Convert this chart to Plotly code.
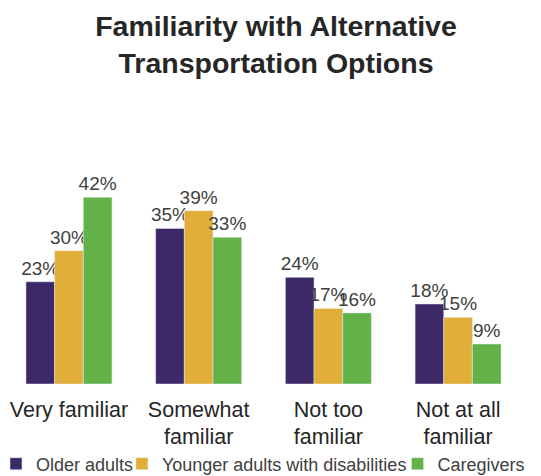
import plotly.graph_objects as go

categories = ['Very familiar', 'Somewhat<br>familiar', 'Not too<br>familiar', 'Not at all<br>familiar']
older_adults = [23, 35, 24, 18]
younger_disabled = [30, 39, 17, 15]
caregivers = [42, 33, 16, 9]

series = [
    ('Older adults', older_adults, '#3d2868', 'legend'),
    ('Younger adults with disabilities', younger_disabled, '#e1ae3a', 'legend2'),
    ('Caregivers', caregivers, '#62b248', 'legend3'),
]

font_family = 'Liberation Sans, Arial, sans-serif'

fig = go.Figure()
for name, vals, color, leg in series:
    fig.add_trace(go.Bar(
        x=categories, y=vals, name=name, marker_color=color,
        text=[f'{v}%' for v in vals], textposition='outside',
        textfont=dict(size=19, color='#404040', family=font_family),
        constraintext='none', cliponaxis=False, legend=leg,
    ))

# one legend per series so each entry can sit where the original has it
leg_common = dict(orientation='h', xref='container', yref='container',
                  xanchor='left', yanchor='middle', y=0.042,
                  font=dict(size=18, color='#404040'),
                  bgcolor='rgba(0,0,0,0)', itemwidth=30, indentation=-12)

fig.update_layout(
    width=541, height=476,
    margin=dict(l=0, r=21, t=176, b=100, autoexpand=False),
    paper_bgcolor='white', plot_bgcolor='white',
    font=dict(family=font_family, color='#262626'),
    title=dict(text='<b>Familiarity with Alternative<br>Transportation Options</b>',
               x=0.4954, xanchor='center', y=0.942, yanchor='top',
               font=dict(size=28.5, color='#262626')),
    barmode='group', bargap=0.337, bargroupgap=0,
    showlegend=True,
    legend=dict(x=0.0, **leg_common),
    legend2=dict(x=0.2327, **leg_common),
    legend3=dict(x=0.7422, **leg_common),
    xaxis=dict(range=[-0.47, 3.539], showgrid=False, showline=False, ticks='',
               zeroline=False, ticklabelstandoff=10,
               tickfont=dict(size=21.5, color='#262626')),
    yaxis=dict(range=[0, 45], visible=False),
)

fig.write_html('out.html')
